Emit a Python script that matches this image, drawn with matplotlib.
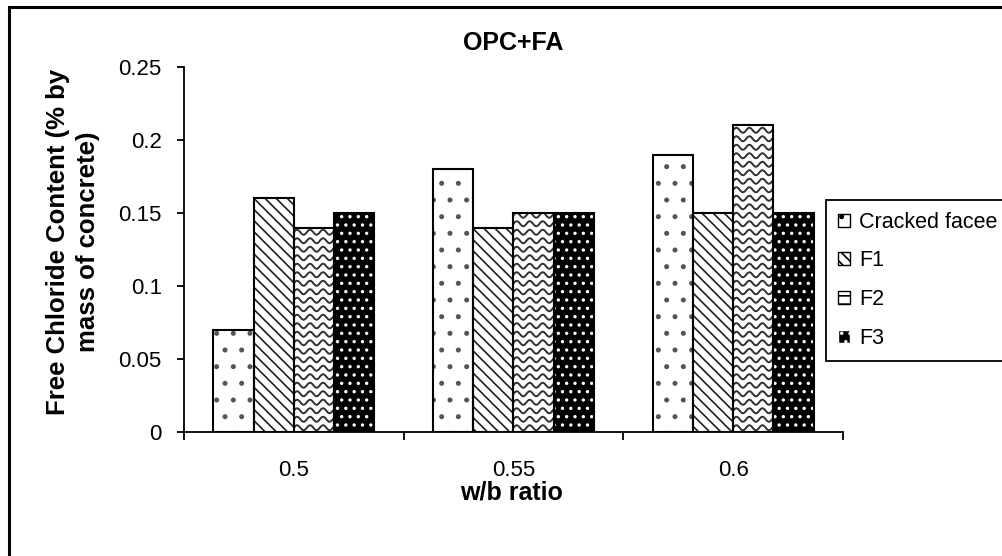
import numpy as np
import matplotlib
matplotlib.use("Agg")
import matplotlib.pyplot as plt
from matplotlib.patches import Patch, Rectangle
from matplotlib.lines import Line2D
from matplotlib.transforms import IdentityTransform

plt.rcParams["font.family"] = ["Liberation Sans", "DejaVu Sans"]
plt.rcParams["hatch.linewidth"] = 1.2

ratios   = ["0.5", "0.55", "0.6"]
series   = ["Cracked facee", "F1", "F2", "F3"]
cracked  = [0.07, 0.18, 0.19]
f1       = [0.16, 0.14, 0.15]
f2       = [0.14, 0.15, 0.21]
f3       = [0.15, 0.15, 0.15]
y_ticks  = [0, 0.05, 0.1, 0.15, 0.2, 0.25]
y_labels = ["0", "0.05", "0.1", "0.15", "0.2", "0.25"]

W, H = 1003, 556


def wave_fill(ax, bars, step=8.5, period=13, amp=2.5):
    # zigzag texture, clipped to each bar
    for bar in bars:
        (x0, y0), (x1, y1) = ax.transData.transform(
            [(bar.get_x(), bar.get_y()),
             (bar.get_x() + bar.get_width(), bar.get_y() + bar.get_height())])
        xs = np.linspace(x0 - period, x1 + period, 120)
        for yc in np.arange(y0 + step / 2, y1 + step, step):
            ys = yc + amp * np.sin(2 * np.pi * (xs - x0) / period)
            ln = Line2D(xs, ys, transform=IdentityTransform(),
                        color="#303030", lw=1.4, zorder=2.5)
            ax.add_artist(ln)
            ln.set_clip_path(bar)


fig = plt.figure(figsize=(W / 100, H / 100), dpi=100)
ax = fig.add_axes([184 / W, 1 - 432 / H, 659 / W, 365 / H])
ax.set_xlim(-0.5, 2.5)
ax.set_ylim(0, 0.25)

x = np.arange(len(ratios))
w = 0.183
styles = [
    (cracked, "white", "#555555", "."),
    (f1,      "white", "#202020", "\\\\\\"),
    (f2,      "white", "none",    None),
    (f3,      "black", "white",   ".."),
]
for i, (vals, face, hc, hatch) in enumerate(styles):
    pos = x + (i - 1.5) * w
    ax.bar(pos, vals, w, color=face, edgecolor=hc, hatch=hatch,
           linewidth=0, zorder=2)
    outline = ax.bar(pos, vals, w, fill=False, edgecolor="black",
                     linewidth=1.5, zorder=3)
    if i == 2:
        wave_fill(ax, outline)

ax.spines["top"].set_visible(False)
ax.spines["right"].set_visible(False)
for s in ("left", "bottom"):
    ax.spines[s].set_linewidth(1.3)

ax.set_xticks([-0.5, 0.5, 1.5, 2.5])
ax.set_xticklabels([])
ax.set_xticks(x, minor=True)
ax.set_xticklabels(ratios, minor=True, fontsize=16)
ax.tick_params(axis="x", which="major", length=6, width=1.3, direction="out")
ax.tick_params(axis="x", which="minor", length=0, pad=20)
ax.set_yticks(y_ticks)
ax.set_yticklabels(y_labels, fontsize=16)
ax.tick_params(axis="y", length=5, width=1.3, direction="out", pad=11)

fig.text(513 / W, 1 - 43 / H, "OPC+FA", ha="center", va="center",
         fontsize=18, fontweight="bold")
fig.text(512 / W, 1 - 492 / H, "w/b ratio", ha="center", va="center",
         fontsize=18, fontweight="bold")
fig.text(73 / W, 1 - 242 / H, "Free Chloride Content (% by\nmass of concrete)",
         ha="center", va="center", rotation=90, multialignment="center",
         fontsize=18.5, fontweight="bold", linespacing=1.3)

handles = [
    Patch(facecolor="white", edgecolor="black", hatch="."),
    Patch(facecolor="white", edgecolor="black", hatch="\\\\\\"),
    Patch(facecolor="white", edgecolor="black", hatch="--"),
    Patch(facecolor="black", edgecolor="white", hatch=".."),
]
leg = fig.legend(handles, series, loc="upper left",
                 bbox_to_anchor=(826 / W, 1 - 200 / H, (W - 826) / W + 0.01, 0),
                 mode="expand", borderaxespad=0, fontsize=15.5,
                 handlelength=0.55, handleheight=0.55, handletextpad=0.45,
                 labelspacing=0.82, borderpad=0.55, fancybox=False,
                 framealpha=1, edgecolor="black")
leg.get_frame().set_linewidth(1.3)

fig.add_artist(Rectangle((9 / W, -0.1), 1.1, 1 - 7 / H + 0.1,
                         transform=fig.transFigure, fill=False,
                         edgecolor="black", linewidth=2.2))

plt.savefig("out.png", dpi=100)
plt.close()
